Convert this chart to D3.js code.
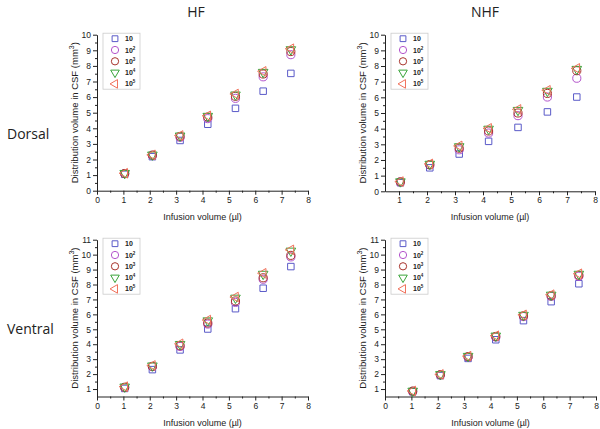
<!DOCTYPE html>
<html>
<head>
<meta charset="utf-8">
<script src="https://cdn.jsdelivr.net/npm/d3@7"></script>
<style>
  body { margin: 0; background: #fff; }
  svg { display: block; }
</style>
</head>
<body>
<svg id="chart" width="600" height="429"></svg>
<script>
// infusion steps (µl)
const xVals = [1.05, 2.1, 3.15, 4.2, 5.25, 6.3, 7.35];
// legend: 10, 10^2 ... 10^5
const seriesBase = ["10", "10", "10", "10", "10"];
const seriesExp = [null, "2", "3", "4", "5"];

// distribution volume (mm3), one row per series
const hfDorsal = [
  [1.05, 2.18, 3.22, 4.26, 5.28, 6.38, 7.52],
  [1.1, 2.27, 3.42, 4.62, 5.92, 7.3, 8.72],
  [1.1, 2.28, 3.48, 4.72, 6.05, 7.48, 8.92],
  [1.12, 2.3, 3.52, 4.78, 6.15, 7.6, 9.05],
  [1.12, 2.3, 3.54, 4.8, 6.2, 7.65, 9.1]
];
const nhfDorsal = [
  [0.55, 1.5, 2.38, 3.19, 4.08, 5.07, 6.02],
  [0.6, 1.68, 2.65, 3.72, 4.83, 6.02, 7.22],
  [0.6, 1.7, 2.75, 3.85, 5.0, 6.25, 7.7],
  [0.62, 1.74, 2.86, 3.98, 5.18, 6.4, 7.8],
  [0.62, 1.75, 2.9, 4.02, 5.23, 6.45, 7.85]
];
const hfVentral = [
  [1.04, 2.3, 3.62, 5.02, 6.38, 7.75, 9.2],
  [1.1, 2.5, 3.85, 5.35, 6.8, 8.35, 9.85],
  [1.12, 2.52, 3.9, 5.42, 6.9, 8.45, 9.95],
  [1.15, 2.56, 4.0, 5.58, 7.1, 8.7, 10.25],
  [1.16, 2.58, 4.03, 5.62, 7.16, 8.75, 10.32]
];
const nhfVentral = [
  [0.82, 1.9, 3.05, 4.3, 5.58, 6.85, 8.05],
  [0.85, 1.95, 3.15, 4.48, 5.85, 7.2, 8.55],
  [0.86, 1.96, 3.17, 4.52, 5.9, 7.25, 8.62],
  [0.87, 1.98, 3.2, 4.56, 5.95, 7.3, 8.7],
  [0.87, 1.98, 3.2, 4.57, 5.97, 7.32, 8.72]
];

const colTitles = ["HF", "NHF"];
const rowTitles = ["Dorsal", "Ventral"];

const colors = ["#5a5ac8", "#b455cc", "#a8342c", "#3aa43a", "#f0705a"];
const symbols = [
  { type: d3.symbolSquare, size: 42, rot: 0 },
  { type: d3.symbolCircle, size: 52, rot: 0 },
  { type: d3.symbolCircle, size: 52, rot: 0 },
  { type: d3.symbolTriangle, size: 40, rot: 180 },
  { type: d3.symbolTriangle, size: 40, rot: -90 }
];

const panels = [
  { data: hfDorsal, left: 97, right: 308, top: 34.7, bottom: 190.7, xDom: [0, 8], yDom: [0, 10], xTicks: d3.range(0, 9), yTicks: d3.range(0, 11) },
  { data: nhfDorsal, left: 385, right: 595, top: 34.7, bottom: 191.3, xDom: [0.5, 8], yDom: [0, 10], xTicks: d3.range(1, 9), yTicks: d3.range(0, 11) },
  { data: hfVentral, left: 97, right: 308, top: 239.7, bottom: 396.5, xDom: [0, 8], yDom: [0.5, 11], xTicks: d3.range(0, 9), yTicks: d3.range(1, 12) },
  { data: nhfVentral, left: 385, right: 596, top: 239.7, bottom: 396.5, xDom: [0, 8], yDom: [0.5, 11], xTicks: d3.range(0, 9), yTicks: d3.range(1, 12) }
];

const svg = d3.select("#chart");

// column and row titles
svg.selectAll(".coltitle")
  .data(colTitles)
  .enter()
  .append("text")
  .attr("x", (d, i) => [196, 485][i])
  .attr("y", 17)
  .attr("text-anchor", "middle")
  .attr("font-family", "Open Sans, sans-serif")
  .attr("font-size", "14px")
  .attr("fill", "#222")
  .text((d) => d);

svg.selectAll(".rowtitle")
  .data(rowTitles)
  .enter()
  .append("text")
  .attr("x", 7)
  .attr("y", (d, i) => [139, 334][i])
  .attr("font-family", "Open Sans, sans-serif")
  .attr("font-size", "14px")
  .attr("fill", "#222")
  .text((d) => d);

panels.forEach(function (p) {
  const x = d3.scaleLinear().domain(p.xDom).range([p.left, p.right]);
  const y = d3.scaleLinear().domain(p.yDom).range([p.bottom, p.top]);
  const g = svg.append("g");

  // minor ticks at halves
  const xMinor = d3.range(Math.ceil(p.xDom[0]) + 0.5, p.xDom[1], 1);
  const yMinor = d3.range(Math.ceil(p.yDom[0]) + 0.5, p.yDom[1], 1);

  const xAxis = g.append("g")
    .attr("transform", "translate(0," + p.bottom + ")")
    .call(d3.axisBottom(x).tickValues(p.xTicks).tickSize(4).tickSizeOuter(0).tickPadding(2).tickFormat(d3.format("d")));
  g.append("g")
    .attr("transform", "translate(0," + p.bottom + ")")
    .call(d3.axisBottom(x).tickValues(xMinor).tickSize(2).tickSizeOuter(0).tickFormat(""))
    .select(".domain").remove();

  const yAxis = g.append("g")
    .attr("transform", "translate(" + p.left + ",0)")
    .call(d3.axisLeft(y).tickValues(p.yTicks).tickSize(4).tickSizeOuter(0).tickPadding(2).tickFormat(d3.format("d")));
  g.append("g")
    .attr("transform", "translate(" + p.left + ",0)")
    .call(d3.axisLeft(y).tickValues(yMinor).tickSize(2).tickSizeOuter(0).tickFormat(""))
    .select(".domain").remove();

  g.selectAll(".tick text")
    .attr("font-family", "Arial, Liberation Sans, sans-serif")
    .attr("font-size", "8.5px")
    .attr("fill", "#222");
  g.selectAll(".domain").attr("stroke", "#222");
  g.selectAll(".tick line").attr("stroke", "#222");

  // axis titles
  g.append("text")
    .attr("x", (p.left + p.right) / 2)
    .attr("y", p.bottom + 29)
    .attr("text-anchor", "middle")
    .attr("font-family", "Arial, Liberation Sans, sans-serif")
    .attr("font-size", "9px")
    .attr("fill", "#222")
    .text("Infusion volume (\u00b5l)");

  const yl = g.append("text")
    .attr("transform", "translate(" + (p.left - 19) + "," + (p.top + p.bottom) / 2 + ") rotate(-90)")
    .attr("text-anchor", "middle")
    .attr("font-family", "Arial, Liberation Sans, sans-serif")
    .attr("font-size", "9.5px")
    .attr("fill", "#222");
  yl.append("tspan").text("Distribution volume in CSF (mm");
  yl.append("tspan").attr("dy", -4).attr("font-size", "7px").text("3");
  yl.append("tspan").attr("dy", 4).text(")");

  // markers
  p.data.forEach(function (vals, s) {
    const sym = d3.symbol().type(symbols[s].type).size(symbols[s].size);
    g.selectAll(null)
      .data(vals)
      .enter()
      .append("path")
      .attr("d", sym)
      .attr("transform", (d, i) => "translate(" + x(xVals[i]) + "," + y(d) + ") rotate(" + symbols[s].rot + ")")
      .attr("fill", "none")
      .attr("stroke", colors[s])
      .attr("stroke-width", 1);
  });

  // legend box
  const lx = p.left + 6, ly = p.top - 1.5;
  const leg = g.append("g").attr("transform", "translate(" + lx + "," + ly + ")");
  leg.append("rect")
    .attr("width", 37)
    .attr("height", 56)
    .attr("fill", "#fff")
    .attr("stroke", "#ccc")
    .attr("stroke-width", 0.8);
  seriesBase.forEach(function (base, s) {
    const sym = d3.symbol().type(symbols[s].type).size(symbols[s].size * 0.8);
    const row = leg.append("g").attr("transform", "translate(0," + (5.5 + s * 11.3) + ")");
    row.append("path")
      .attr("d", sym)
      .attr("transform", "translate(12,0) rotate(" + symbols[s].rot + ")")
      .attr("fill", "none")
      .attr("stroke", colors[s])
      .attr("stroke-width", 1);
    const t = row.append("text")
      .attr("x", 22)
      .attr("y", 2.5)
      .attr("font-family", "Arial, Liberation Sans, sans-serif")
      .attr("font-size", "7px")
      .attr("font-weight", "bold")
      .attr("fill", "#222");
    t.append("tspan").text(base);
    if (seriesExp[s]) {
      t.append("tspan").attr("dy", -3).attr("font-size", "4.5px").text(seriesExp[s]);
    }
  });
});
</script>
</body>
</html>
